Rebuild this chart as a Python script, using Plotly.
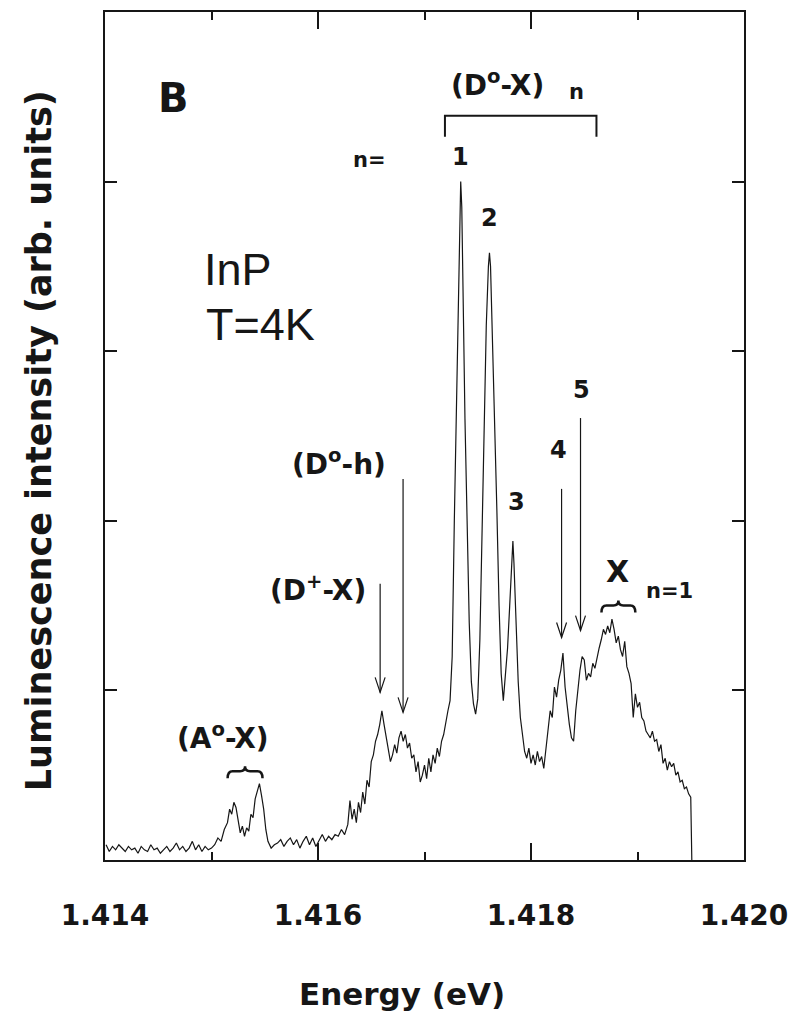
import plotly.graph_objects as go

# ---------------- data ----------------
energy = [
    1.41401, 1.41404, 1.41407, 1.41410, 1.41413, 1.41416, 1.41419, 1.41422, 1.41425, 1.41428,
    1.41431, 1.41434, 1.41437, 1.41440, 1.41443, 1.41446, 1.41449, 1.41452, 1.41455, 1.41458,
    1.41461, 1.41464, 1.41467, 1.41470, 1.41473, 1.41476, 1.41479, 1.41482, 1.41485, 1.41488,
    1.41491, 1.41494, 1.41497, 1.41500, 1.41503, 1.41506, 1.41509, 1.41512, 1.41515, 1.41517,
    1.41519, 1.41521, 1.41523, 1.41525, 1.41527, 1.41529, 1.41531, 1.41533, 1.41535, 1.41537,
    1.41539, 1.41541, 1.41543, 1.41545, 1.41547, 1.41549, 1.41551, 1.41553, 1.41556, 1.41559,
    1.41562, 1.41565, 1.41568, 1.41571, 1.41574, 1.41577, 1.41580, 1.41583, 1.41586, 1.41589,
    1.41592, 1.41595, 1.41598, 1.41601, 1.41604, 1.41607, 1.41610, 1.41613, 1.41616, 1.41619,
    1.41622, 1.41625, 1.41628, 1.41630, 1.41632, 1.41634, 1.41636, 1.41638, 1.41640, 1.41642,
    1.41644, 1.41646, 1.41648, 1.41650, 1.41652, 1.41654, 1.41656, 1.41658, 1.41660, 1.41662,
    1.41664, 1.41666, 1.41668, 1.41670, 1.41672, 1.41674, 1.41676, 1.41678, 1.41680, 1.41682,
    1.41684, 1.41686, 1.41688, 1.41690, 1.41692, 1.41694, 1.41696, 1.41698, 1.41700, 1.41702,
    1.41704, 1.41706, 1.41708, 1.41710, 1.41712, 1.41714, 1.41716, 1.41718, 1.41720, 1.41722,
    1.41724, 1.41726, 1.41728, 1.41730, 1.41732, 1.41733, 1.41734, 1.41735, 1.41736, 1.41738,
    1.41740, 1.41742, 1.41744, 1.41746, 1.41748, 1.41750, 1.41752, 1.41754, 1.41756, 1.41758,
    1.41760, 1.41761, 1.41762, 1.41764, 1.41766, 1.41768, 1.41770, 1.41772, 1.41774, 1.41776,
    1.41778, 1.41780, 1.41782, 1.41783, 1.41784, 1.41786, 1.41788, 1.41790, 1.41792, 1.41794,
    1.41796, 1.41798, 1.41800, 1.41802, 1.41804, 1.41806, 1.41808, 1.41810, 1.41812, 1.41814,
    1.41816, 1.41818, 1.41820, 1.41822, 1.41824, 1.41826, 1.41828, 1.41830, 1.41832, 1.41834,
    1.41836, 1.41838, 1.41840, 1.41842, 1.41844, 1.41846, 1.41848, 1.41850, 1.41852, 1.41854,
    1.41856, 1.41858, 1.41860, 1.41862, 1.41864, 1.41866, 1.41868, 1.41870, 1.41872, 1.41874,
    1.41876, 1.41878, 1.41880, 1.41882, 1.41884, 1.41886, 1.41888, 1.41890, 1.41892, 1.41894,
    1.41896, 1.41898, 1.41900, 1.41902, 1.41904, 1.41906, 1.41908, 1.41910, 1.41912, 1.41914,
    1.41916, 1.41918, 1.41920, 1.41922, 1.41924, 1.41926, 1.41928, 1.41930, 1.41932, 1.41934,
    1.41936, 1.41938, 1.41940, 1.41942, 1.41944, 1.41946, 1.41948, 1.41950, 1.41951,
]

intensity = [
    0.09, 0.05, 0.08, 0.06, 0.09, 0.07, 0.05, 0.08, 0.06, 0.07,
    0.04, 0.08, 0.06, 0.05, 0.09, 0.06, 0.07, 0.04, 0.06, 0.08,
    0.05, 0.07, 0.10, 0.06, 0.08, 0.05, 0.07, 0.11, 0.06, 0.09,
    0.05, 0.08, 0.06, 0.07, 0.09, 0.13, 0.11, 0.18, 0.22, 0.30,
    0.27, 0.34, 0.31, 0.22, 0.16, 0.20, 0.14, 0.19, 0.17, 0.27,
    0.25, 0.36, 0.40, 0.45, 0.38, 0.30, 0.18, 0.11, 0.07, 0.09,
    0.10, 0.12, 0.08, 0.11, 0.13, 0.09, 0.12, 0.07, 0.11, 0.14,
    0.09, 0.13, 0.08, 0.12, 0.15, 0.11, 0.14, 0.12, 0.15, 0.14,
    0.18, 0.15, 0.21, 0.35, 0.24, 0.30, 0.22, 0.34, 0.28, 0.40,
    0.33, 0.47, 0.43, 0.58, 0.62, 0.70, 0.74, 0.80, 0.88, 0.80,
    0.72, 0.66, 0.58, 0.62, 0.68, 0.63, 0.72, 0.76, 0.70, 0.74,
    0.66, 0.69, 0.60, 0.62, 0.52, 0.58, 0.46, 0.50, 0.56, 0.48,
    0.60, 0.52, 0.62, 0.57, 0.66, 0.61, 0.70, 0.74, 0.82, 0.88,
    0.94, 1.20, 2.00, 2.70, 3.50, 3.85, 4.00, 3.85, 3.40, 2.60,
    2.00, 1.40, 1.05, 0.92, 0.86, 0.95, 1.30, 1.90, 2.55, 3.15,
    3.50, 3.58, 3.50, 3.05, 2.55, 2.05, 1.50, 1.10, 0.94, 1.08,
    1.25, 1.50, 1.80, 1.88, 1.75, 1.40, 1.05, 0.84, 0.72, 0.64,
    0.60, 0.66, 0.57, 0.62, 0.56, 0.64, 0.58, 0.61, 0.54, 0.66,
    0.74, 0.88, 0.84, 1.02, 0.96, 1.06, 1.12, 1.22, 1.02, 0.90,
    0.80, 0.72, 0.70, 0.88, 1.02, 1.12, 1.20, 1.18, 1.06, 1.10,
    1.08, 1.16, 1.13, 1.20, 1.25, 1.30, 1.36, 1.33, 1.38, 1.34,
    1.42, 1.36, 1.28, 1.32, 1.24, 1.20, 1.29, 1.14, 1.10, 1.04,
    0.84, 0.98, 0.90, 0.93, 0.84, 0.82, 0.76, 0.74, 0.72, 0.76,
    0.70, 0.71, 0.64, 0.68, 0.57, 0.60, 0.53, 0.58, 0.55, 0.57,
    0.50, 0.52, 0.46, 0.47, 0.42, 0.43, 0.39, 0.37, 0.00,
]

x_tick_vals = [1.414, 1.416, 1.418, 1.420]
x_tick_text = ["1.414", "1.416", "1.418", "1.420"]
x_minor_vals = [1.415, 1.417, 1.419]
y_tick_vals = [1, 2, 3, 4]

# ---------------- geometry ----------------
W, H = 798, 1018
L, R, T, B = 105, 746, 10, 860
XMIN, XMAX = 1.414, 1.420
YMIN, YMAX = 0.0, 5.0


def dx(px):
    return XMIN + (px - L) / (R - L) * (XMAX - XMIN)


def dy(py):
    return YMIN + (B - py) / (B - T) * (YMAX - YMIN)


def fx(px):
    return (px - L) / (R - L)


def fy(py):
    return (B - py) / (B - T)


INK = "#161616"
BOLD = "DejaVu Sans"

fig = go.Figure()
fig.add_trace(go.Scatter(
    x=energy, y=intensity, mode="lines",
    line=dict(color=INK, width=1.2),
    showlegend=False, hoverinfo="skip",
))

annotations = []


def label(text, px, py, size, family=BOLD, weight="bold", **kw):
    annotations.append(dict(
        text=text, x=fx(px), y=fy(py), xref="paper", yref="paper",
        showarrow=False, xanchor="center", yanchor="middle",
        font=dict(family=family, size=size, color=INK, weight=weight), **kw))


label("B", 174, 96, 40)
label("(D<sup>o</sup>-X)", 499, 82, 28)
label("n", 578, 90, 21)
label("n=", 370, 158, 21)
label("1", 462, 155, 24)
label("2", 491, 216, 24)
label("3", 518, 501, 24)
label("4", 560, 449, 24)
label("5", 583, 389, 24)
label("InP", 238, 268, 45, family="Liberation Sans", weight="normal")
label("T=4K", 261, 323, 45, family="Liberation Sans", weight="normal")
label("(D<sup>o</sup>-h)", 340, 462, 28)
label("(D<sup>+</sup>-X)", 319, 588, 28)
label("(A<sup>o</sup>-X)", 223, 736, 28)
label("X", 619, 571, 30)
label("n=1", 671, 590, 21)
# axis titles
label("Energy (eV)", 403, 994, 31)
label("Luminescence intensity (arb. units)", 39, 440, 35, textangle=-90)

shapes = []


def path(d_px, width=1.2):
    shapes.append(dict(type="path", xref="x", yref="y", path=d_px,
                       line=dict(color=INK, width=width), fillcolor="rgba(0,0,0,0)"))


def P(px, py):
    return f"{dx(px)},{dy(py)}"


def arrow(px, top, tip):
    path(f"M {P(px, top)} L {P(px, tip)}")
    path(f"M {P(px - 5, tip - 15)} L {P(px, tip)} L {P(px + 5, tip - 15)}")


arrow(381, 583, 692)
arrow(404, 478, 712)
arrow(563, 488, 637)
arrow(582, 417, 630)

# bracket over (D-X)n peaks
path(f"M {P(446, 135)} L {P(446, 114)} L {P(598, 114)} L {P(598, 135)}", width=2)


def brace(x0, x1, ybar, tip_up=5, drop=7, width=2.5):
    xm = (x0 + x1) / 2
    path(
        f"M {P(x0, ybar + drop)} Q {P(x0, ybar)} {P(x0 + 5, ybar)} "
        f"L {P(xm - 5, ybar)} Q {P(xm, ybar)} {P(xm, ybar - tip_up)} "
        f"Q {P(xm, ybar)} {P(xm + 5, ybar)} "
        f"L {P(x1 - 5, ybar)} Q {P(x1, ybar)} {P(x1, ybar + drop)}",
        width=width)


brace(603, 637, 605)
brace(228, 263, 771)

fig.update_layout(
    width=W, height=H, autosize=False,
    margin=dict(l=L, r=W - R, t=T, b=H - B, pad=0),
    paper_bgcolor="white", plot_bgcolor="white",
    annotations=annotations, shapes=shapes,
    xaxis=dict(
        range=[XMIN, XMAX], tickvals=x_tick_vals, ticktext=x_tick_text,
        ticks="inside", ticklen=17, tickwidth=1.5, tickcolor=INK,
        showline=True, linecolor=INK, linewidth=1.5, mirror="ticks",
        showgrid=False, zeroline=False,
        tickfont=dict(family=BOLD, size=28, color=INK, weight="bold"),
        ticklabelstandoff=30,
        minor=dict(tickvals=x_minor_vals, ticks="inside", ticklen=8,
                   tickwidth=1.5, tickcolor=INK, showgrid=False),
    ),
    yaxis=dict(
        range=[YMIN, YMAX], tickvals=y_tick_vals, showticklabels=False,
        ticks="inside", ticklen=12, tickwidth=1.5, tickcolor=INK,
        showline=True, linecolor=INK, linewidth=1.5, mirror="ticks",
        showgrid=False, zeroline=False,
    ),
)

fig.write_html("out.html")
